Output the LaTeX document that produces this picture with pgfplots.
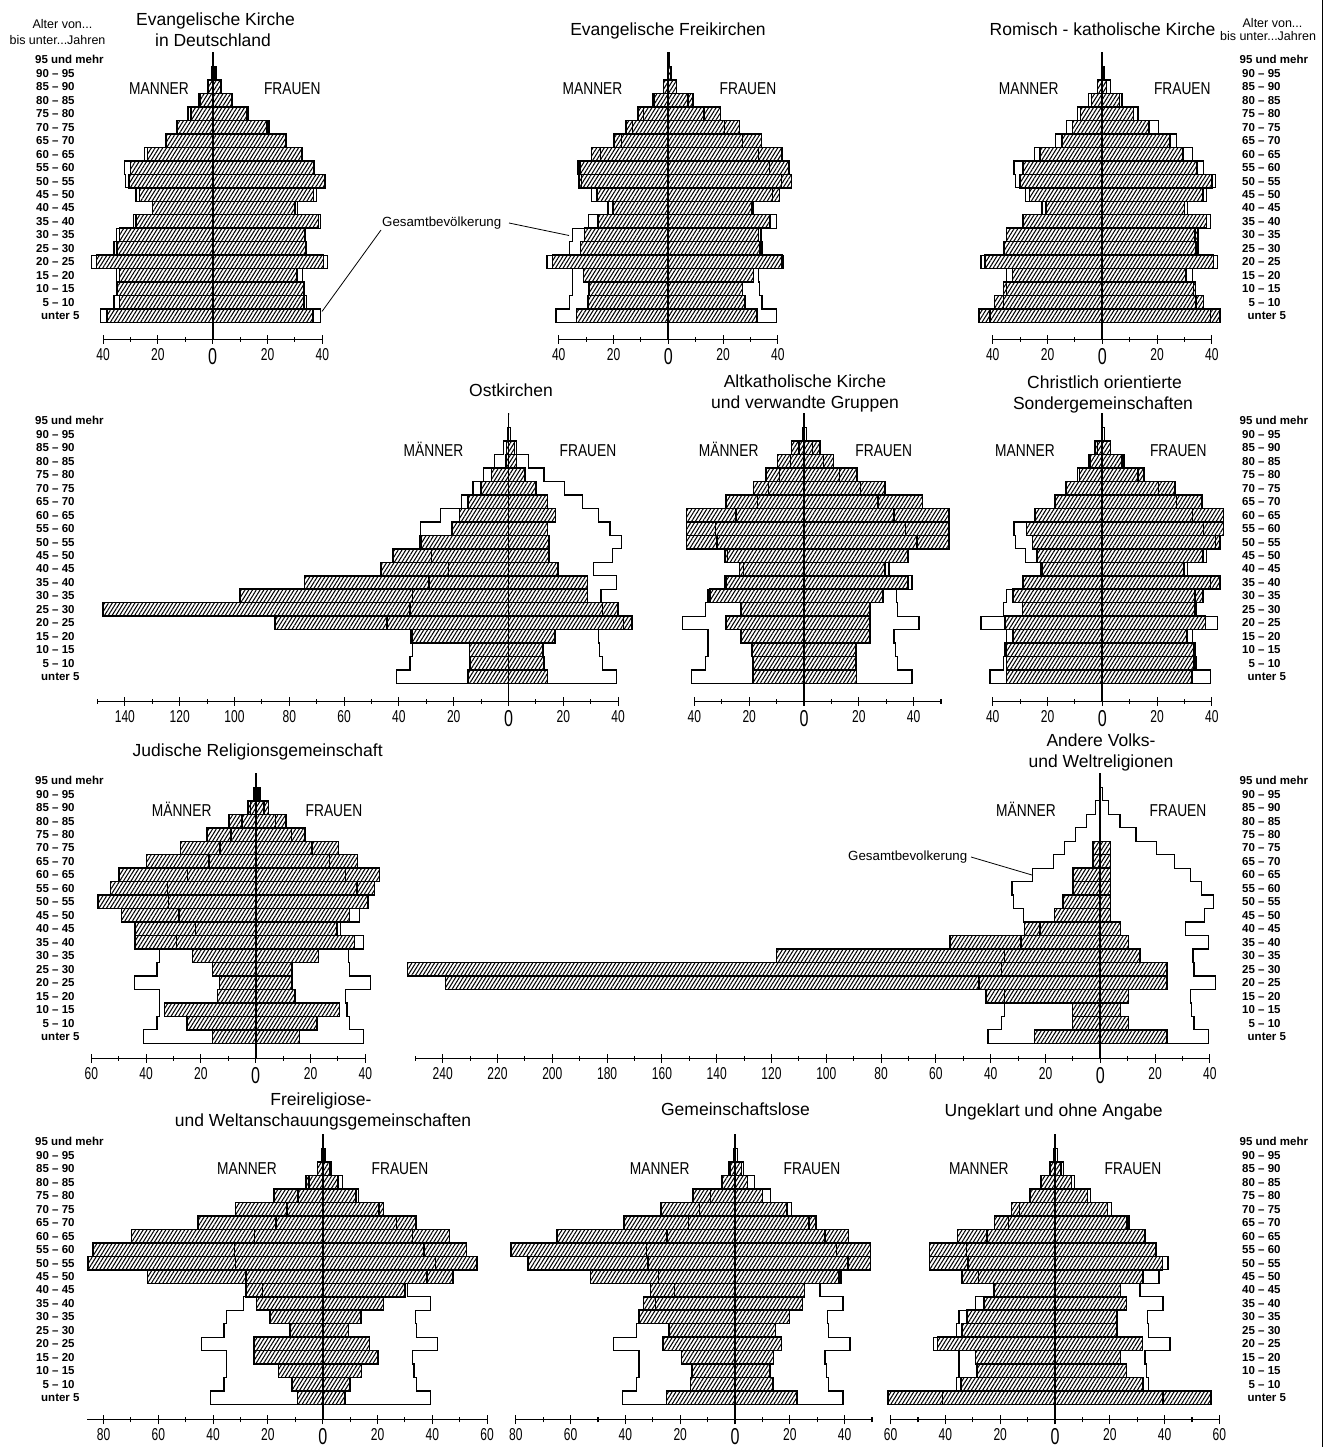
\documentclass[border=0pt]{standalone}
\usepackage{fontspec}
\setmainfont{Liberation Sans}
\newfontfamily\tickfont{Liberation Sans}[FakeStretch=0.7]
\newfontfamily\capsfont{Liberation Sans}[FakeStretch=0.8]
\usepackage{pgfplots}
\pgfplotsset{compat=1.18}
\usepackage{pgfplotstable}
\usetikzlibrary{patterns.meta}

% total population (Gesamtbevoelkerung), upper boundary of each age row
\pgfplotstableread{
yb m w
-0.5 0 0
0.5 41.0 39.4
1.5 36.0 34.2
2.5 35.0 33.3
3.5 35.0 32.8
4.5 44.3 42.0
5.5 36.0 34.2
6.5 35.0 33.8
7.5 29.0 39.4
8.5 22.0 31.0
9.5 28.0 38.0
10.5 31.8 41.2
11.5 32.2 37.0
12.5 24.8 32.8
13.5 17.1 27.0
14.5 13.0 20.5
15.5 9.0 13.0
16.5 5.0 7.2
17.5 1.8 3.0
18.5 0.4 0.8
19.5 0.0 0.1
19.5 0 0
}\gesamt

% groups: i = age row (0 = unter 5 ... 19 = 95 und mehr)
\pgfplotstableread{
i EKm EKw FKm FKw RKm RKw OKm OKw AKm AKw CSm CSw JRm JRw AVm AVw FRm FRw GLm GLw UOm UOw
0 38.5 36.6 33.5 32.3 45.0 43.0 14.7 14.3 18.7 19.2 35.0 32.7 15.7 16.0 24.1 24.4 9.2 8.1 25.0 22.6 61.0 57.0
1 34.0 33.4 29.3 28.0 39.4 37.0 14.0 13.0 18.7 19.0 35.0 33.5 25.0 22.3 10.1 10.2 11.3 10.0 16.3 13.9 34.3 32.1
2 35.0 33.2 29.0 27.0 36.0 34.0 14.3 12.6 19.0 19.0 35.6 33.9 33.2 30.6 10.1 7.4 16.2 14.2 15.7 12.7 28.5 26.1
3 34.0 30.7 31.0 31.0 32.8 30.5 35.5 16.9 23.0 24.0 32.6 30.9 14.0 14.4 41.8 10.2 25.0 20.1 19.5 14.1 29.1 23.9
4 42.4 40.5 42.3 41.5 42.8 40.5 85.2 45.0 28.4 24.0 35.6 37.6 13.3 13.2 238.9 24.4 25.0 17.0 26.2 16.9 42.8 31.9
5 35.0 33.8 32.0 33.5 35.7 35.0 148.0 39.9 23.0 24.0 29.1 33.7 15.7 13.2 252.9 24.4 11.9 9.4 24.1 14.8 33.9 22.7
6 34.0 33.5 30.5 33.0 34.9 35.0 98.0 28.8 34.3 28.9 32.6 36.7 23.0 22.9 118.2 14.5 19.2 13.9 35.3 19.9 32.1 22.7
7 28.0 38.7 25.6 37.2 28.8 38.0 74.4 28.8 28.4 38.0 29.1 43.0 44.1 36.0 54.8 10.2 24.1 22.2 33.4 24.7 26.0 26.1
8 22.0 30.0 20.1 30.5 20.5 30.0 46.5 18.0 23.6 29.5 22.4 29.9 44.1 29.6 27.7 7.4 28.1 30.1 30.8 25.3 22.2 23.9
9 26.8 36.8 26.0 40.5 26.6 36.8 42.2 14.8 28.8 38.0 23.8 36.7 49.0 34.3 16.8 3.8 63.9 47.5 52.8 38.6 33.9 32.1
10 30.5 41.0 32.6 45.0 30.0 40.0 32.3 14.8 42.8 53.0 25.5 43.0 57.6 40.9 13.7 3.8 85.7 56.3 75.6 49.5 45.8 39.2
11 30.0 36.8 33.0 44.0 29.0 34.6 20.6 14.3 42.8 53.0 27.7 44.3 53.0 43.3 10.0 3.8 83.8 52.4 81.7 49.5 45.8 36.7
12 23.8 32.5 28.0 41.5 22.7 29.5 17.9 17.1 42.8 53.0 24.6 44.3 49.9 45.2 10.0 3.8 69.8 46.3 64.9 41.4 35.5 33.0
13 17.0 26.5 19.9 34.0 14.8 24.7 14.7 14.3 28.4 43.3 17.3 36.3 39.9 37.2 2.6 3.8 45.6 34.1 40.6 29.5 22.1 26.3
14 13.0 19.8 15.5 26.0 10.8 17.0 10.1 10.0 18.5 29.5 13.3 26.6 27.4 30.2 2.6 3.8 31.8 22.2 27.1 19.0 15.8 19.2
15 8.0 12.5 11.0 19.0 8.0 11.3 6.2 6.1 13.9 19.4 8.4 15.2 17.7 18.0 0 0 17.8 12.2 15.3 10.0 9.1 11.8
16 4.5 6.8 5.5 9.0 3.9 6.2 1.0 2.9 9.7 10.7 4.5 7.9 9.8 11.0 0 0 6.2 5.5 4.6 4.5 5.1 6.1
17 1.6 3.3 1.8 3.0 1.8 1.6 0.8 2.2 4.5 5.8 2.7 3.0 2.9 4.6 0 0 2.0 2.4 2.4 2.4 2.1 2.1
18 0.4 1.2 0.3 1.2 0.3 0.3 0 0 0 0 0 0 0.8 1.5 0 0 0 0 0 0 0 0
19 0 0.2 0 0.3 0 0 0 0 0 0 0 0 0 0 0 0 0 0 0 0 0 0
}\groups

\newcommand\ticklab{\tickfont\fontsize{17.2}{17.2}\selectfont}
\newcommand\zl{{\fontsize{23}{23}\selectfont 0}}
\newcommand\ttl{\fontsize{17.5}{21}\selectfont}
\newcommand\capl{\capsfont\fontsize{17.2}{17.2}\selectfont}
\newcommand\agef{\bfseries\fontsize{11.5}{12}\selectfont}
\newcommand\hdr{\fontsize{12.5}{13}\selectfont}
\newcommand\gsf{\fontsize{13.3}{14}\selectfont}

\pgfplotsset{
  pyr/.style={
    x=2.74pt, y=13.47pt, ymax=19.6, clip=false,
    anchor=south west,
    axis x line*=bottom, axis y line=none,
    axis line style={line width=1.2pt, black},
    tick align=center, major tick length=9pt, minor tick length=5pt,
    tick style={black, line width=1.1pt},
    ytick=\empty,
    xticklabel style={font=\ticklab, anchor=north, inner sep=0pt, yshift=-4pt},
  },
  hbar/.style={xbar, bar width=1, bar shift=0pt, draw=black, line width=1.5pt,
    pattern={Lines[angle=58,distance=3.2pt,line width=1.05pt]}, pattern color=black},
  gesamtline/.style={const plot mark left, line width=1.3pt, black, mark=none},
}

\newcommand\agecol[4]{%
  \node[anchor=west,inner sep=0pt,font=\agef] at (#3pt,{-(#4-0.5*13.47)*1pt}) {unter 5};
  \foreach \lab [count=\k from 1] in {\hphantom{0}5 – 10,10 – 15,15 – 20,20 – 25,25 – 30,30 – 35,35 – 40,40 – 45,45 – 50,50 – 55,55 – 60,60 – 65,65 – 70,70 – 75,75 – 80,80 – 85,85 – 90,90 – 95}{
    \node[anchor=west,inner sep=0pt,font=\agef] at (#2pt,{-(#4-(\k+0.5)*13.47)*1pt}) {\lab};}
  \node[anchor=west,inner sep=0pt,font=\agef] at (#1pt,{-(#4-19.5*13.47)*1pt}) {95 und mehr};
}

\newcommand\pyrplots[1]{%
  \addplot[hbar] table[x expr=-\thisrow{#1m}, y=i] {\groups};
  \addplot[hbar] table[x=#1w, y=i] {\groups};
  \addplot[gesamtline] table[x expr=-\thisrow{m}, y=yb] {\gesamt};
  \addplot[gesamtline] table[x=w, y=yb] {\gesamt};
}

\begin{document}
\begin{tikzpicture}
\useasboundingbox (0,0) rectangle (1325pt,-1447pt);

% ---------- headers and age labels ----------
\node[anchor=base,inner sep=0pt,font=\hdr] at (62.5pt,-28.3pt) {Alter von...};
\node[anchor=base,inner sep=0pt,font=\hdr] at (57.5pt,-45pt) {bis unter...Jahren};
\node[anchor=base,inner sep=0pt,font=\hdr] at (1272.5pt,-28pt) {Alter von...};
\node[anchor=base,inner sep=0pt,font=\hdr] at (1268pt,-41pt) {bis unter...Jahren};

\agecol{35}{36}{41}{322.5}
\agecol{35}{36}{41}{683.5}
\agecol{35}{36}{41}{1043.3}
\agecol{35}{36}{41}{1404.5}
\agecol{1239.5}{1242}{1247.5}{322.5}
\agecol{1239.5}{1242}{1247.5}{683.5}
\agecol{1239.5}{1242}{1247.5}{1043.3}
\agecol{1239.5}{1242}{1247.5}{1404.5}

% ---------- titles ----------
\begin{scope}[every node/.style={anchor=base,inner sep=0pt,font=\ttl}]
\node at (215.5pt,-26pt) {Evangelische Kirche};
\node at (213pt,-46.7pt) {in Deutschland};
\node at (668pt,-36pt) {Evangelische Freikirchen};
\node at (1102.5pt,-36pt) {Romisch - katholische Kirche};
\node at (511pt,-396pt) {Ostkirchen};
\node at (805pt,-387pt) {Altkatholische Kirche};
\node at (805pt,-408pt) {und verwandte Gruppen};
\node at (1104.5pt,-388pt) {Christlich orientierte};
\node at (1103pt,-409pt) {Sondergemeinschaften};
\node at (257.7pt,-756.7pt) {Judische Religionsgemeinschaft};
\node at (1101pt,-746.7pt) {Andere Volks-};
\node at (1101pt,-767.7pt) {und Weltreligionen};
\node at (321pt,-1105.7pt) {Freireligiose-};
\node at (323pt,-1126.7pt) {und Weltanschauungsgemeinschaften};
\node at (735.5pt,-1115pt) {Gemeinschaftslose};
\node at (1053.7pt,-1116.7pt) {Ungeklart und ohne Angabe};
\end{scope}

% ---------- MANNER / FRAUEN ----------
\begin{scope}[every node/.style={anchor=base,inner sep=0pt,font=\capl}]
\node at (159pt,-94.2pt) {MANNER}; \node at (292.3pt,-94.2pt) {FRAUEN};
\node at (592.5pt,-94.2pt) {MANNER}; \node at (748pt,-94.2pt) {FRAUEN};
\node at (1028.7pt,-94.2pt) {MANNER}; \node at (1182.3pt,-94.2pt) {FRAUEN};
\node at (433.5pt,-456pt) {MÄNNER}; \node at (588pt,-456pt) {FRAUEN};
\node at (728.7pt,-456pt) {MÄNNER}; \node at (883.7pt,-456pt) {FRAUEN};
\node at (1025pt,-456pt) {MANNER}; \node at (1178.3pt,-456pt) {FRAUEN};
\node at (181.7pt,-816pt) {MÄNNER}; \node at (334pt,-816pt) {FRAUEN};
\node at (1026pt,-816pt) {MÄNNER}; \node at (1178pt,-816pt) {FRAUEN};
\node at (247pt,-1174pt) {MANNER}; \node at (400pt,-1174pt) {FRAUEN};
\node at (659.7pt,-1174pt) {MANNER}; \node at (812pt,-1174pt) {FRAUEN};
\node at (978.8pt,-1174pt) {MANNER}; \node at (1133pt,-1174pt) {FRAUEN};
\end{scope}

% ---------- Gesamtbevoelkerung labels ----------
\node[anchor=base west,inner sep=0pt,font=\gsf] at (382pt,-227pt) {Gesamtbevölkerung};
\draw[line width=0.8pt] (509pt,-223pt) -- (569pt,-235.5pt);
\draw[line width=0.8pt] (381pt,-230pt) -- (322pt,-311.5pt);
\node[anchor=base west,inner sep=0pt,font=\gsf] at (848pt,-860pt) {Gesamtbevolkerung};
\draw[line width=0.8pt] (971pt,-857pt) -- (1032pt,-875pt);

% page edge
\draw[line width=1.2pt] (1322.5pt,0pt) -- (1322.5pt,-1447pt);

% ---------- Row 1 ----------
\begin{axis}[pyr, at={(103.1pt,-339.3pt)}, xmin=-40, xmax=40, ymin=-1.747,
  xtick={-40,-20,0,20,40}, minor xtick={-30,-10,10,30}, xticklabels={40,20,\zl,20,40}]
\pyrplots{EK}
\draw[line width=1.7pt] (axis cs:0,-1.747) -- (axis cs:0,19.55);
\end{axis}
\begin{axis}[pyr, at={(558.7pt,-339.3pt)}, xmin=-40, xmax=40, ymin=-1.747,
  xtick={-40,-20,0,20,40}, minor xtick={-30,-10,10,30}, xticklabels={40,20,\zl,20,40}]
\pyrplots{FK}
\draw[line width=1.7pt] (axis cs:0,-1.747) -- (axis cs:0,19.55);
\end{axis}
\begin{axis}[pyr, at={(992.7pt,-339.3pt)}, xmin=-40, xmax=40, ymin=-1.747,
  xtick={-40,-20,0,20,40}, minor xtick={-30,-10,10,30}, xticklabels={40,20,\zl,20,40}]
\pyrplots{RK}
\draw[line width=1.7pt] (axis cs:0,-1.747) -- (axis cs:0,19.55);
\end{axis}

% ---------- Row 2 ----------
\begin{axis}[pyr, at={(97.5pt,-701.3pt)}, xmin=-150, xmax=40, ymin=-1.821,
  xtick={-140,-120,...,40}, minor xtick={-150,-130,...,30},
  xticklabels={140,120,100,80,60,40,20,\zl,20,40}]
\pyrplots{OK}
\draw[line width=1.7pt] (axis cs:0,-1.821) -- (axis cs:0,19.55);
\end{axis}
\begin{axis}[pyr, at={(694.4pt,-701.3pt)}, xmin=-40, xmax=50, ymin=-1.821,
  xtick={-40,-20,0,20,40}, minor xtick={-30,-10,10,30,50}, xticklabels={40,20,\zl,20,40}]
\pyrplots{AK}
\draw[line width=1.7pt] (axis cs:0,-1.821) -- (axis cs:0,19.55);
\end{axis}
\begin{axis}[pyr, at={(992.7pt,-701.3pt)}, xmin=-40, xmax=40, ymin=-1.821,
  xtick={-40,-20,0,20,40}, minor xtick={-30,-10,10,30}, xticklabels={40,20,\zl,20,40}]
\pyrplots{CS}
\draw[line width=1.7pt] (axis cs:0,-1.821) -- (axis cs:0,19.55);
\end{axis}

% ---------- Row 3 ----------
\begin{axis}[pyr, at={(91.3pt,-1058.3pt)}, xmin=-60, xmax=40, ymin=-1.614,
  xtick={-60,-40,...,40}, minor xtick={-50,-30,...,30}, xticklabels={60,40,20,\zl,20,40}]
\pyrplots{JR}
\draw[line width=1.7pt] (axis cs:0,-1.614) -- (axis cs:0,19.55);
\end{axis}
\begin{axis}[pyr, at={(415.3pt,-1058.3pt)}, xmin=-250, xmax=40, ymin=-1.614,
  xtick={-240,-220,...,40}, minor xtick={-250,-230,...,30},
  xticklabels={240,220,200,180,160,140,120,100,80,60,40,20,\zl,20,40}]
\pyrplots{AV}
\draw[line width=1.7pt] (axis cs:0,-1.614) -- (axis cs:0,19.55);
\end{axis}

% ---------- Row 4 ----------
\begin{axis}[pyr, at={(87.1pt,-1419.8pt)}, xmin=-86, xmax=60, ymin=-1.636,
  xtick={-80,-60,...,60}, minor xtick={-70,-50,...,50}, xticklabels={80,60,40,20,\zl,20,40,60}]
\pyrplots{FR}
\draw[line width=1.7pt] (axis cs:0,-1.636) -- (axis cs:0,19.55);
\end{axis}
\begin{axis}[pyr, at={(515.8pt,-1419.8pt)}, xmin=-80, xmax=50, ymin=-1.636,
  xtick={-80,-60,...,40}, minor xtick={-70,-50,...,50}, xticklabels={80,60,40,20,\zl,20,40}]
\pyrplots{GL}
\draw[line width=1.7pt] (axis cs:0,-1.636) -- (axis cs:0,19.55);
\end{axis}
\begin{axis}[pyr, at={(890.6pt,-1419.8pt)}, xmin=-60, xmax=60, ymin=-1.636,
  xtick={-60,-40,...,60}, minor xtick={-50,-30,...,50}, xticklabels={60,40,20,\zl,20,40,60}]
\pyrplots{UO}
\draw[line width=1.7pt] (axis cs:0,-1.636) -- (axis cs:0,19.55);
\end{axis}
\end{tikzpicture}
\end{document}
